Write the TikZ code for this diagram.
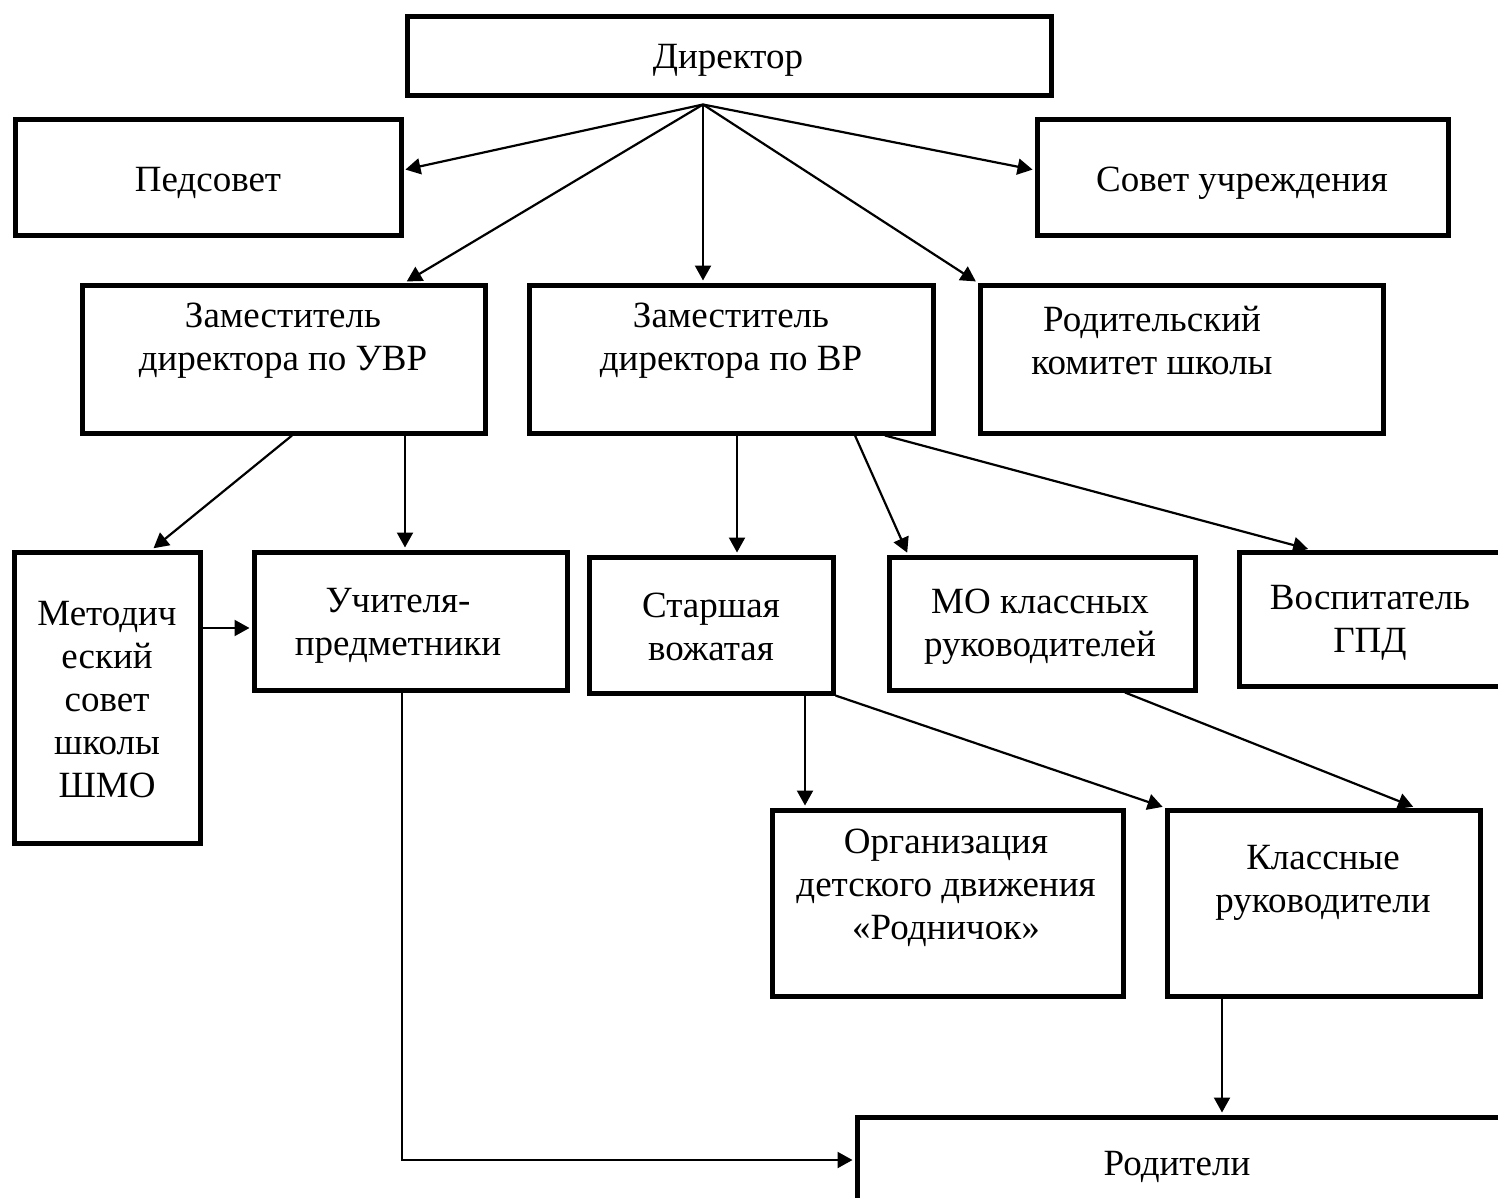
\documentclass[tikz,border=0pt]{standalone}
\usepackage{fontspec}
\setmainfont{Liberation Serif}
\usetikzlibrary{arrows.meta,calc}
\tikzset{
  box/.style 2 args={draw, line width=2.5pt, inner sep=0pt,
                     minimum width=0.5pt*#1, minimum height=0.5pt*#2},
  txt/.style={align=center, inner sep=0pt, font=\fontsize{18.5}{21.5}\selectfont},
  link/.style={-{Triangle[length=7.5pt,width=8pt]}, line width=1.1pt, shorten >=1pt},
}

\begin{document}
\begin{tikzpicture}[x=0.5pt, y=-0.5pt]
  % ── Page frame (boxes on the right and bottom run off it) ──
  \useasboundingbox (0,0) rectangle (1498,1198);
  \clip (0,0) rectangle (1498,1198);

  % ── Top level ──
  \node[box={644}{79}]  (dir)   at (729,56.5)   {};
  \node[box={386}{116}] (ped)   at (208,178)    {};
  \node[box={411}{116}] (sovet) at (1242.5,178) {};
  \node[txt] (dir-t)   at (728,60)  {Директор};
  \node[txt] (ped-t)   at (208,183) {Педсовет};
  \node[txt] (sovet-t) at (1242,183) {Совет учреждения};

  % ── Deputies and parents' committee ──
  \node[box={403}{148}] (zuvr)   at (283.5,359)  {};
  \node[box={404}{148}] (zvr)    at (731,359)    {};
  \node[box={403}{148}] (rodkom) at (1181.5,359) {};
  \node[txt] (zuvr-t)   at (283,341)  {Заместитель\\директора по УВР};
  \node[txt] (zvr-t)    at (731,341)  {Заместитель\\директора по ВР};
  \node[txt] (rodkom-t) at (1152,341) {Родительский\\комитет школы};

  % ── Third row ──
  \node[box={186}{291}] (metod)  at (107,697.5) {};
  \node[box={313}{138}] (uchit)  at (410.5,621) {};
  \node[box={244}{136}] (starsh) at (711,625)   {};
  \node[box={306}{133}] (mo)     at (1042,623.5) {};
  \node[box={266}{134}] (vosp)   at (1372,619)  {};
  \node[txt] (metod-t)  at (107,700)  {Методич\\еский\\совет\\школы\\ШМО};
  \node[txt] (uchit-t)  at (398,626)  {Учителя-\\предметники};
  \node[txt] (starsh-t) at (711,627)  {Старшая\\вожатая};
  \node[txt] (mo-t)     at (1040,627) {МО классных\\руководителей};
  \node[txt] (vosp-t)   at (1370,623) {Воспитатель\\ГПД};

  % ── Fourth row and parents ──
  \node[box={351}{186}] (org)   at (947.5,903)  {};
  \node[box={313}{186}] (klass) at (1323.5,903) {};
  \node[box={673}{153}] (rod)   at (1193.5,1193.5) {};
  \node[txt] (org-t)   at (946,888)   {Организация\\детского движения\\«Родничок»};
  \node[txt] (klass-t) at (1323,883)  {Классные\\руководители};
  \node[txt] (rod-t)   at (1177,1167) {Родители};

  % ── Links from the director ──
  \coordinate (hub) at ($(dir.south)+(-26,6)$);
  \draw[link] (hub) -- ($(ped.east)+(0,-8)$);
  \draw[link] (hub) -- ($(sovet.west)+(0,-8)$);
  \draw[link] (hub) -- ($(zuvr.north)+(121.5,0)$);
  \draw[link] (hub) -- (hub |- zvr.north);
  \draw[link] (hub) -- (rodkom.north west);

  % ── Links from the deputy (УВР) ──
  \draw[link] ($(zuvr.south)+(8.5,0)$) -- ($(metod.north)+(45,0)$);
  \coordinate (u1) at ($(zuvr.south)+(121.5,0)$);
  \draw[link] (u1) -- (u1 |- uchit.north);
  \coordinate (m1) at ($(metod.east)+(0,-69.5)$);
  \draw[link] (m1) -- (m1 -| uchit.west);
  \coordinate (u2) at ($(uchit.south)+(-8.5,0)$);
  \coordinate (r1) at ($(rod.west)+(0,-33.5)$);
  \draw[link] (u2) |- (r1);

  % ── Links from the deputy (ВР) ──
  \coordinate (v1) at ($(zvr.south)+(6,0)$);
  \draw[link] (v1) -- (v1 |- starsh.north);
  \draw[link] ($(zvr.south)+(124,0)$) -- ($(mo.north)+(-134,0)$);
  \draw[link] ($(zvr.south)+(154,0)$) -- ($(vosp.north)+(-62,0)$);

  % ── Lower links ──
  \coordinate (w1) at ($(starsh.south)+(94,0)$);
  \draw[link] (w1) -- (w1 |- org.north);
  \draw[link] (starsh.south east) -- (klass.north west);
  \draw[link] ($(mo.south)+(83,0)$) -- ($(klass.north)+(91.5,0)$);
  \coordinate (k1) at ($(klass.south)+(-101.5,0)$);
  \draw[link] (k1) -- (k1 |- rod.north);
\end{tikzpicture}
\end{document}
